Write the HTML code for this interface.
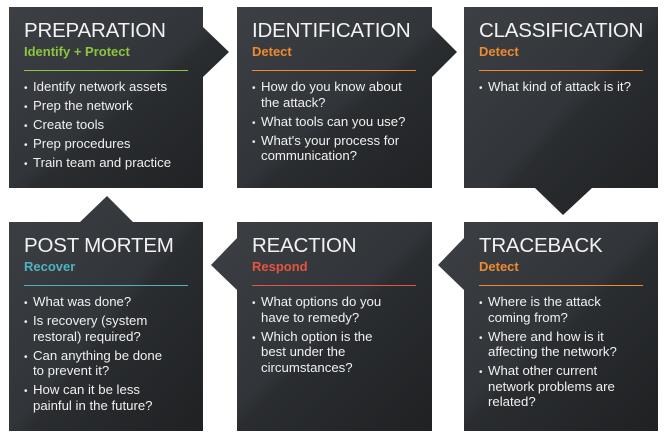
<!DOCTYPE html>
<html><head><meta charset="utf-8"><style>
body{margin:0;width:667px;height:439px;background:#fff;position:relative;overflow:hidden;font-family:"Liberation Sans",Arial,sans-serif}
svg{position:absolute;left:0;top:0}
.b{position:absolute;color:#fff}
.t{font-size:20.5px;letter-spacing:-0.2px;line-height:22px;color:#f2f2f2}
.s{font-size:13px;font-weight:bold;line-height:15px;margin-top:2px}
.l{height:1px;margin-top:11px;width:164px}
ul{margin:8px 0 0 0;padding:0;list-style:none;font-size:13.2px;line-height:15.5px;color:#f0f0f0;white-space:nowrap}
li{padding-left:9px;text-indent:-9px;margin-bottom:3.5px;line-height:15.5px}
li:before{content:"\2022";display:inline-block;width:9px;text-indent:0;font-size:10px;line-height:0}
</style></head><body>
<svg width="667" height="439">
<defs><linearGradient id="g" x1="0" y1="0" x2="1" y2="1">
<stop offset="0" stop-color="#3c4044"/><stop offset="0.5" stop-color="#31353a"/><stop offset="0.55" stop-color="#2a2d30"/><stop offset="1" stop-color="#1f2123"/></linearGradient></defs>
<g fill="url(#g)">
<path d="M9 7H203V27L229 52L203 77V188H9Z"/>
<path d="M237 7H432V27L457 52L432 77V188H237Z"/>
<path d="M464 7H658V188H592L563 215L535 188H464Z"/>
<path d="M9 222H80L107 196L133 222H203V431H9Z"/>
<path d="M237 222H432V431H237V290L211 265L237 238Z"/>
<path d="M464 222H658V431H464V290L438 265L464 238Z"/>
</g></svg>
<div class="b" style="left:24px;top:20px"><div class="t">PREPARATION</div><div class="s" style="color:#8cc63f">Identify + Protect</div><div class="l" style="background:#8cc63f"></div>
<ul><li>Identify network assets</li><li>Prep the network</li><li>Create tools</li><li>Prep procedures</li><li>Train team and practice</li></ul></div>
<div class="b" style="left:252px;top:20px"><div class="t">IDENTIFICATION</div><div class="s" style="color:#f08a2e">Detect</div><div class="l" style="background:#f08a2e"></div>
<ul><li>How do you know about<br>the attack?</li><li>What tools can you use?</li><li>What's your process for<br>communication?</li></ul></div>
<div class="b" style="left:479px;top:20px"><div class="t">CLASSIFICATION</div><div class="s" style="color:#f08a2e">Detect</div><div class="l" style="background:#f08a2e"></div>
<ul><li>What kind of attack is it?</li></ul></div>
<div class="b" style="left:24px;top:235px"><div class="t">POST MORTEM</div><div class="s" style="color:#4fb3bf">Recover</div><div class="l" style="background:#4fb3bf"></div>
<ul><li>What was done?</li><li>Is recovery (system<br>restoral) required?</li><li>Can anything be done<br>to prevent it?</li><li>How can it be less<br>painful in the future?</li></ul></div>
<div class="b" style="left:252px;top:235px"><div class="t">REACTION</div><div class="s" style="color:#e8533f">Respond</div><div class="l" style="background:#e8533f"></div>
<ul><li>What options do you<br>have to remedy?</li><li>Which option is the<br>best under the<br>circumstances?</li></ul></div>
<div class="b" style="left:479px;top:235px"><div class="t">TRACEBACK</div><div class="s" style="color:#f08a2e">Detect</div><div class="l" style="background:#f08a2e"></div>
<ul><li>Where is the attack<br>coming from?</li><li>Where and how is it<br>affecting the network?</li><li>What other current<br>network problems are<br>related?</li></ul></div>
</body></html>
